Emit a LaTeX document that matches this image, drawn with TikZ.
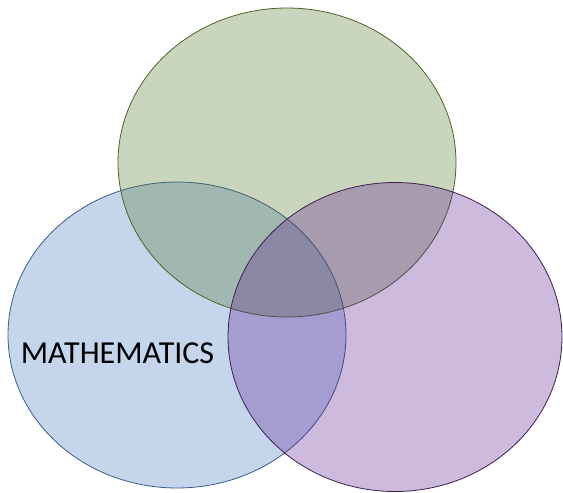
\documentclass[tikz,border=0pt]{standalone}
\usepackage{fontspec}
\setmainfont{Carlito}
\definecolor{gfill}{RGB}{78,115,35}
\definecolor{bfill}{RGB}{62,118,192}
\definecolor{pfill}{RGB}{88,28,142}
\definecolor{gline}{RGB}{79,98,40}
\definecolor{bline}{RGB}{56,93,138}
\definecolor{pline}{RGB}{63,30,80}
\begin{document}
\begin{tikzpicture}[x=1pt,y=-1pt,
  vset/.style={fill opacity=0.3, draw opacity=1, line width=0.8pt}]
\useasboundingbox (0,0) rectangle (563,493);
\path[vset, fill=bfill, draw=bline] (177,335) ellipse [x radius=169, y radius=153];
\path[vset, fill=gfill, draw=gline] (287,162.5) ellipse [x radius=169, y radius=154.5];
\path[vset, fill=pfill, draw=pline] (395,337) ellipse [x radius=167, y radius=154.5];
\node[font=\fontsize{32}{38}\selectfont, inner sep=0pt] (math) at (117.5,353) {MATHEMATICS};
\end{tikzpicture}
\end{document}
